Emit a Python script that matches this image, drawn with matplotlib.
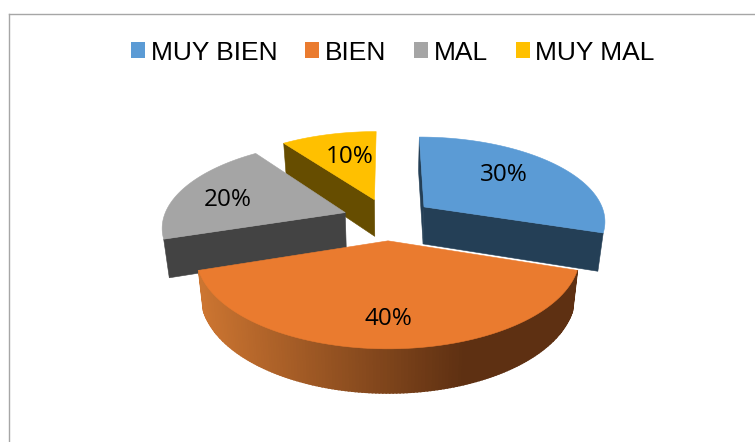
#!/usr/bin/env python3
"""Exploded 3D pie, drawn by hand because matplotlib has no 3D pie."""

import numpy as np
import matplotlib
matplotlib.use("Agg")
import matplotlib.pyplot as plt
from matplotlib.colors import to_rgb
from matplotlib.patches import Patch, Polygon

categories = ["MUY BIEN", "BIEN", "MAL", "MUY MAL"]
values = [30, 40, 20, 10]
labels = ["30%", "40%", "20%", "10%"]

TOP_COLORS = ["#5b9bd5", "#ea7b2f", "#a5a5a5", "#ffc000"]
SIDE_COLORS = ["#243f56", "#5e3012", "#434343", "#664d00"]
ORANGE_LIGHT = "#cc7531"
BORDER = "#a6a6a6"

W, H = 755, 442

# ─── Projection of the disc onto the picture (pixels) ─────────────────────────
CX, CY = 388, 219
RX, RY = 182, 84
PERSP = 0.153
EXPLODE = 0.25
DEPTH = 37.6
BOT_X = 0.975
BOT_Y = 1.05


def project(u, v, bottom=False):
    s = 1 / (1 + PERSP * v)
    dx, dy = RX * u * s, RY * v * s
    if bottom:
        return CX + dx * BOT_X, CY + DEPTH - dy * BOT_Y
    return CX + dx, CY - dy


def rim(a0, a1, off, bottom=False, n=80):
    # angles run clockwise from 12 o'clock, in radians
    t = np.linspace(a0, a1, n)
    return project(off[0] + np.sin(t), off[1] + np.cos(t), bottom)


def radial_face(a, off, color, zorder):
    ax0, ay0 = project(off[0], off[1])
    ax1, ay1 = project(off[0] + np.sin(a), off[1] + np.cos(a))
    bx1, by1 = project(off[0] + np.sin(a), off[1] + np.cos(a), True)
    bx0, by0 = project(off[0], off[1], True)
    ax.add_patch(Polygon([(ax0, ay0), (ax1, ay1), (bx1, by1), (bx0, by0)],
                         facecolor=color, edgecolor=color, lw=0.4, zorder=zorder))


def top_face(a0, a1, off, color, zorder):
    xs, ys = rim(a0, a1, off)
    ox, oy = project(off[0], off[1])
    pts = [(ox, oy)] + list(zip(xs, ys))
    ax.add_patch(Polygon(pts, facecolor=color, edgecolor=color, lw=0.4, zorder=zorder))


def orange_side(a0, a1, off, zorder):
    # curved wall, split in strips for the left-to-right shading
    n = 160
    tx, ty = rim(a0, a1, off, n=n)
    bx, by = rim(a0, a1, off, True, n=n)
    light = np.array(to_rgb(ORANGE_LIGHT))
    dark = np.array(to_rgb(SIDE_COLORS[1]))
    for i in range(n - 1):
        f = np.clip((465 - tx[i]) / (465 - 200), 0, 1)
        col = dark + (light - dark) * f
        ax.add_patch(Polygon([(tx[i], ty[i]), (tx[i + 1], ty[i + 1]),
                              (bx[i + 1], by[i + 1]), (bx[i], by[i])],
                             facecolor=col, edgecolor=col, lw=1.2, zorder=zorder))


fig = plt.figure(figsize=(W / 100, H / 100), dpi=100, facecolor="white")
ax = fig.add_axes([0, 0, 1, 1])
ax.set_xlim(0, W)
ax.set_ylim(H, 0)
ax.axis("off")

# chart border, only left and top show in the crop
ax.plot([8.5, 8.5], [H, 13.5], color=BORDER, lw=1)
ax.plot([8.5, W], [13.5, 13.5], color=BORDER, lw=1)

# ─── Slices ───────────────────────────────────────────────────────────────────
edges = np.cumsum([0] + values) / sum(values) * 2 * np.pi
mids = (edges[:-1] + edges[1:]) / 2
offsets = [(EXPLODE * np.sin(m), EXPLODE * np.cos(m)) for m in mids]

# blue: start sliver and end wall
radial_face(edges[0], offsets[0], SIDE_COLORS[0], 6)
radial_face(edges[1], offsets[0], SIDE_COLORS[0], 6)
top_face(edges[0], edges[1], offsets[0], TOP_COLORS[0], 7)

# orange in front of everything
orange_side(edges[1], edges[2], offsets[1], 8)
top_face(edges[1], edges[2], offsets[1], TOP_COLORS[1], 9)

# gray
radial_face(edges[2], offsets[2], SIDE_COLORS[2], 4)
top_face(edges[2], edges[3], offsets[2], TOP_COLORS[2], 5)

# yellow sits behind gray
radial_face(edges[3], offsets[3], SIDE_COLORS[3], 2)
top_face(edges[3], edges[4], offsets[3], TOP_COLORS[3], 3)

# ─── Labels ───────────────────────────────────────────────────────────────────
label_pos = [(504, 175), (388, 319), (228, 200), (350, 157)]
for lab, (lx, ly) in zip(labels, label_pos):
    ax.text(lx, ly, lab, fontsize=17.5, family="Open Sans", color="black",
            ha="center", va="center", zorder=10)

handles = [Patch(facecolor=c, edgecolor="none") for c in TOP_COLORS]
ax.legend(handles, categories, ncol=4, frameon=False, loc="center",
          bbox_to_anchor=(393, 52.5), bbox_transform=ax.transData,
          prop={"family": "Liberation Sans", "size": 19.0},
          handlelength=0.533, handleheight=0.533, handletextpad=0.2,
          columnspacing=1.07, borderpad=0, borderaxespad=0)

fig.savefig("out.png", dpi=100)
